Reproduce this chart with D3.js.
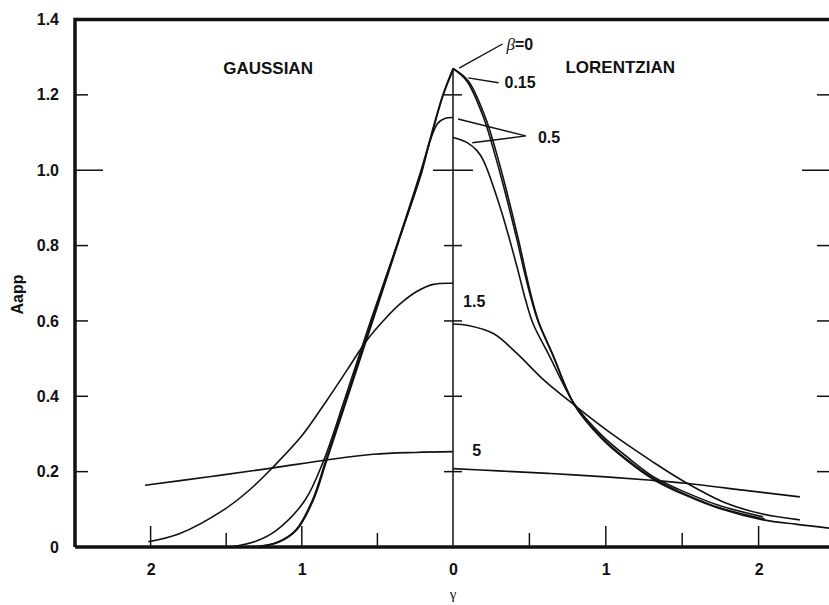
<!DOCTYPE html>
<html>
<head>
<meta charset="utf-8">
<script src="https://cdn.jsdelivr.net/npm/d3@7"></script>
<style>
  html, body { margin: 0; padding: 0; background: #fff; }
  svg { display: block; }
  .lbl { font-family: "Liberation Sans", Arial, sans-serif; font-weight: bold; fill: #111; }
</style>
</head>
<body>
<svg id="chart" width="829" height="605"></svg>
<script>
// Apparent absorbance vs. gamma: Gaussian profile on the left half, Lorentzian on the right.
// Each curve is a list of [gamma, Aapp] pairs; gamma is measured outward from the centre line.
const gaussianBeta0   = [[0,1.265],[0.064,1.20],[0.207,1.00],[0.372,0.795],[0.531,0.60],[0.703,0.39],[0.835,0.23],[0.924,0.124],[1.034,0.045],[1.15,0.013],[1.30,0]];
const gaussianBeta015 = [[0,1.27],[0.067,1.20],[0.211,1.00],[0.377,0.795],[0.537,0.60],[0.709,0.39],[0.841,0.23],[0.93,0.124],[1.04,0.045],[1.16,0.013],[1.31,0]];
const gaussianBeta05  = [[0,1.14],[0.05,1.138],[0.10,1.125],[0.15,1.08],[0.21,0.99],[0.38,0.79],[0.545,0.60],[0.718,0.39],[0.855,0.23],[0.979,0.124],[1.166,0.045],[1.30,0.016],[1.47,0]];
const gaussianBeta15  = [[0,0.70],[0.13,0.697],[0.24,0.678],[0.35,0.645],[0.45,0.605],[0.571,0.548],[0.70,0.47],[0.835,0.389],[1.0,0.295],[1.188,0.213],[1.35,0.15],[1.519,0.098],[1.806,0.036],[2.015,0.014]];
const gaussianBeta5   = [[0,0.253],[0.25,0.251],[0.527,0.246],[0.835,0.231],[1.188,0.21],[1.6,0.187],[2.037,0.164]];

const lorentzBeta0   = [[0,1.27],[0.09,1.237],[0.2,1.14],[0.267,1.052],[0.333,0.954],[0.42,0.813],[0.47,0.725],[0.515,0.654],[0.56,0.595],[0.65,0.512],[0.796,0.376],[0.972,0.288],[1.149,0.226],[1.325,0.176],[1.523,0.137],[1.744,0.102],[2.03,0.072],[2.25,0.06],[2.487,0.049]];
const lorentzBeta015 = [[0,1.27],[0.1,1.237],[0.212,1.14],[0.28,1.052],[0.345,0.954],[0.43,0.813],[0.478,0.725],[0.52,0.654],[0.563,0.595],[0.652,0.512],[0.797,0.376],[0.975,0.29],[1.152,0.228],[1.328,0.178],[1.526,0.139],[1.746,0.104],[2.04,0.074]];
const lorentzBeta05  = [[0,1.087],[0.09,1.074],[0.157,1.052],[0.2,1.025],[0.31,0.90],[0.42,0.742],[0.476,0.654],[0.525,0.592],[0.63,0.508],[0.794,0.38],[0.972,0.297],[1.149,0.236],[1.325,0.183],[1.523,0.145],[1.744,0.11],[2.03,0.08]];
const lorentzBeta15  = [[0,0.592],[0.1,0.588],[0.267,0.566],[0.42,0.513],[0.597,0.442],[0.796,0.376],[1.04,0.30],[1.30,0.228],[1.52,0.172],[1.79,0.116],[2.02,0.088],[2.27,0.072]];
const lorentzBeta5   = [[0,0.208],[0.3,0.202],[0.64,0.195],[1.0,0.186],[1.30,0.177],[1.52,0.169],[1.9,0.151],[2.27,0.133]];

const yTickValues = [0, 0.2, 0.4, 0.6, 0.8, 1.0, 1.2, 1.4];
const innerYTicks = [0.2, 0.4, 0.6, 0.8, 1.0, 1.2];
const xLabelValues = [-2, -1, 0, 1, 2];
const xTickValues = [-2, -1.5, -1, -0.5, 0.5, 1, 1.5, 2];

// beta labels: [text, gamma, Aapp] (right-half coordinates)
const betaLabels = [["=0", 0.35, 1.32], ["0.15", 0.337, 1.219], ["0.5", 0.556, 1.073], ["1.5", 0.066, 0.636], ["5", 0.126, 0.241]];
// leader lines from each label to its curve: [gamma1, A1, gamma2, A2]
const leaderLines = [[0.04, 1.271, 0.324, 1.335], [0.099, 1.245, 0.298, 1.232], [0.033, 1.136, 0.476, 1.091], [0.126, 1.073, 0.476, 1.091]];
const panelTitles = [["GAUSSIAN", -1.52, 1.256], ["LORENTZIAN", 0.736, 1.258]];

const svg = d3.select("#chart");
const x = d3.scaleLinear().domain([-2.5, 0, 2.5]).range([75, 453, 835]);
const y = d3.scaleLinear().domain([0, 1.4]).range([547, 19.5]);

// curves
const line = d3.line().x(d => x(d[0])).y(d => y(d[1])).curve(d3.curveCatmullRom.alpha(0.5));
const leftSide = pts => pts.map(p => [-p[0], p[1]]).sort((a, b) => a[0] - b[0]);
const rightSide = pts => pts.slice().sort((a, b) => a[0] - b[0]);
const curves = [
  leftSide(gaussianBeta0), leftSide(gaussianBeta015), leftSide(gaussianBeta05), leftSide(gaussianBeta15), leftSide(gaussianBeta5),
  rightSide(lorentzBeta0), rightSide(lorentzBeta015), rightSide(lorentzBeta05), rightSide(lorentzBeta15), rightSide(lorentzBeta5)
];
svg.append("g").selectAll("path").data(curves).join("path")
  .attr("d", line).attr("fill", "none").attr("stroke", "#111").attr("stroke-width", 1.6);

// centre line with crossing ticks
svg.append("line").attr("x1", x(0)).attr("x2", x(0)).attr("y1", y(0)).attr("y2", y(1.27))
  .attr("stroke", "#111").attr("stroke-width", 1.5);
svg.append("g").selectAll("line").data(innerYTicks).join("line")
  .attr("x1", d => x(0) - (d === 1.0 ? 20 : 9)).attr("x2", d => x(0) + (d === 1.0 ? 20 : 9))
  .attr("y1", d => y(d)).attr("y2", d => y(d)).attr("stroke", "#111").attr("stroke-width", 1.5);

// frame: left, top and bottom edges
const frame = svg.append("g").attr("stroke", "#111").attr("stroke-width", 3.5).attr("fill", "none");
frame.append("path").attr("d", `M${x(-2.5)},${y(0)}V${y(1.4)}H${x(2.5)}`);
frame.append("line").attr("x1", x(-2.5)).attr("x2", x(2.5)).attr("y1", y(0)).attr("y2", y(0));

// inward ticks on left and right frames
svg.append("g").selectAll("line").data(innerYTicks).join("line")
  .attr("x1", x(-2.5)).attr("x2", d => x(-2.5) + (d === 1.0 ? 28 : 13))
  .attr("y1", d => y(d)).attr("y2", d => y(d)).attr("stroke", "#111").attr("stroke-width", 1.5);
svg.append("g").selectAll("line").data(innerYTicks).join("line")
  .attr("x1", x(2.5)).attr("x2", d => x(2.5) - (d === 1.0 ? 33 : 18))
  .attr("y1", d => y(d)).attr("y2", d => y(d)).attr("stroke", "#111").attr("stroke-width", 1.5);

// inward ticks on the bottom axis
svg.append("g").selectAll("line").data(xTickValues).join("line")
  .attr("x1", d => x(d)).attr("x2", d => x(d))
  .attr("y1", y(0)).attr("y2", d => y(0) - (Number.isInteger(d) ? 21 : 14))
  .attr("stroke", "#111").attr("stroke-width", 1.5);

// y axis labels
const yAxis = d3.axisLeft(y).tickValues(yTickValues).tickSize(0).tickPadding(16)
  .tickFormat(d => d === 0 ? "0" : d3.format(".1f")(d));
const gy = svg.append("g").attr("transform", `translate(${x(-2.5)},0)`).call(yAxis);
gy.select(".domain").remove();
gy.selectAll("text").attr("class", "lbl").attr("font-size", 16).attr("fill", "#111");

// x axis labels
const xAxis = d3.axisBottom(x).tickValues(xLabelValues).tickSize(0).tickPadding(17)
  .tickFormat(d => String(Math.abs(d)));
const gx = svg.append("g").attr("transform", `translate(0,${y(0)})`).call(xAxis);
gx.select(".domain").remove();
gx.selectAll("text").attr("class", "lbl").attr("font-size", 16).attr("fill", "#111");

// axis titles
svg.append("text").attr("x", x(0)).attr("y", 599).attr("text-anchor", "middle")
  .attr("font-family", "'Liberation Serif', 'DejaVu Serif', serif").attr("font-size", 15).attr("fill", "#111").text("γ");
svg.append("text").attr("class", "lbl").attr("font-size", 16).attr("text-anchor", "middle")
  .attr("transform", `translate(23,${y(0.67)}) rotate(-90)`).text("Aapp");

// panel titles
svg.append("g").selectAll("text").data(panelTitles).join("text")
  .attr("class", "lbl").attr("font-size", 17)
  .attr("x", d => x(d[1])).attr("y", d => y(d[2])).text(d => d[0]);

// leader lines and beta labels
svg.append("g").selectAll("line").data(leaderLines).join("line")
  .attr("x1", d => x(d[0])).attr("y1", d => y(d[1])).attr("x2", d => x(d[2])).attr("y2", d => y(d[3]))
  .attr("stroke", "#111").attr("stroke-width", 1.4);
const bl = svg.append("g").selectAll("text").data(betaLabels).join("text")
  .attr("class", "lbl").attr("font-size", 16)
  .attr("x", d => x(d[1])).attr("y", d => y(d[2]));
bl.each(function (d, i) {
  const t = d3.select(this);
  if (i === 0) {
    t.append("tspan").attr("font-family", "'Liberation Serif', 'DejaVu Serif', serif")
      .attr("font-style", "italic").attr("font-weight", "normal").attr("font-size", 17).text("β");
  }
  t.append("tspan").text(d[0]);
});
</script>
</body>
</html>
